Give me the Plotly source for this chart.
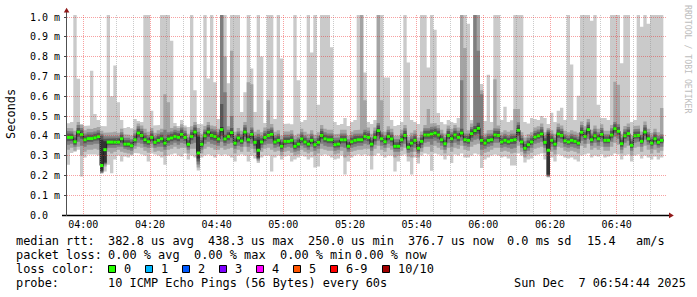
import math
import plotly.graph_objects as go

# ---------------- data ----------------
# x = minutes after 03:55:00, one RTT bin per minute (bin i spans [i, i+1])
tick_minutes = [5, 25, 45, 65, 85, 105, 125, 145, 165]
tick_labels = ["04:00", "04:20", "04:40", "05:00", "05:20", "05:40", "06:00", "06:20", "06:40"]
minor_minutes = [10, 15, 20, 30, 35, 40, 50, 55, 60, 70, 75, 80, 90, 95, 100,
                 110, 115, 120, 130, 135, 140, 150, 155, 160, 170, 175]
y_ticks_ms = [0.0, 0.1, 0.2, 0.3, 0.4, 0.5, 0.6, 0.7, 0.8, 0.9, 1.0]
y_tick_labels = ["0.0\u00a0\u00a0", "0.1 m", "0.2 m", "0.3 m", "0.4 m", "0.5 m",
                 "0.6 m", "0.7 m", "0.8 m", "0.9 m", "1.0 m"]

# median RTT per minute (microseconds)
median_us = [392, 392, 370, 419, 406, 380, 386, 386, 390, 396,
             250, 330, 368, 368, 368, 368, 385, 358, 358, 350,
             380, 414, 402, 380, 370, 392, 367, 377, 385, 363,
             384, 389, 397, 392, 407, 392, 357, 397, 419, 313,
             357, 400, 419, 402, 397, 384, 431, 384, 397, 416,
             363, 389, 374, 419, 380, 407, 367, 327, 369, 392,
             402, 407, 369, 377, 347, 372, 372, 377, 347, 358,
             384, 369, 358, 377, 355, 367, 402, 385, 380, 380,
             355, 358, 380, 380, 347, 370, 377, 380, 380, 397,
             392, 358, 392, 426, 385, 370, 397, 384, 347, 347,
             380, 402, 342, 363, 377, 337, 372, 404, 404, 409,
             414, 404, 380, 360, 402, 385, 404, 392, 414, 380,
             377, 411, 426, 438, 377, 363, 377, 380, 404, 402,
             369, 377, 370, 377, 380, 428, 369, 337, 355, 369,
             394, 400, 409, 367, 327, 377, 358, 409, 402, 375,
             369, 377, 372, 363, 418, 397, 431, 380, 400, 385,
             407, 377, 377, 404, 436, 423, 360, 400, 411, 352,
             400, 402, 372, 419, 385, 363, 385, 367, 377]

# sorted ping RTTs per minute (microseconds), ping01 = fastest, ping10 = slowest
ping01_us = [254, 313, 320, 330, 195, 290, 305, 305, 305, 300,
             208, 220, 254, 211, 280, 300, 270, 295, 290, 300,
             313, 310, 305, 300, 270, 310, 305, 300, 290, 254,
             300, 305, 310, 300, 295, 310, 280, 300, 290, 225,
             290, 300, 305, 300, 290, 305, 300, 305, 300, 290,
             270, 300, 305, 300, 270, 300, 285, 262, 290, 300,
             300, 220, 290, 300, 280, 295, 300, 270, 280, 290,
             300, 295, 280, 290, 240, 245, 300, 305, 300, 290,
             280, 285, 300, 205, 270, 290, 300, 305, 300, 305,
             300, 230, 300, 310, 300, 290, 300, 300, 220, 270,
             300, 305, 270, 205, 290, 260, 300, 310, 305, 224,
             310, 305, 300, 280, 300, 262, 305, 300, 310, 290,
             290, 300, 310, 305, 237, 280, 290, 300, 305, 300,
             290, 295, 285, 250, 250, 310, 300, 265, 280, 285,
             300, 305, 310, 280, 190, 290, 270, 305, 300, 290,
             285, 290, 280, 270, 300, 305, 310, 290, 300, 295,
             305, 290, 295, 300, 310, 305, 280, 300, 305, 270,
             300, 305, 285, 300, 290, 280, 295, 280, 290]
ping02_us = [330, 340, 325, 345, 300, 320, 330, 330, 335, 330,
             212, 245, 320, 310, 320, 330, 320, 315, 310, 305,
             335, 345, 340, 325, 315, 340, 320, 325, 320, 300,
             330, 335, 345, 335, 340, 340, 310, 335, 335, 240,
             310, 335, 345, 340, 330, 330, 340, 330, 335, 340,
             310, 330, 320, 345, 320, 335, 315, 272, 320, 335,
             340, 330, 320, 325, 300, 320, 325, 315, 300, 305,
             330, 320, 310, 320, 300, 310, 335, 330, 325, 325,
             305, 310, 325, 290, 300, 320, 325, 330, 330, 335,
             335, 300, 335, 350, 330, 320, 340, 330, 290, 300,
             325, 340, 295, 290, 320, 290, 320, 345, 345, 320,
             350, 340, 330, 310, 340, 320, 340, 335, 350, 330,
             325, 345, 355, 360, 300, 315, 320, 330, 340, 340,
             320, 325, 320, 310, 315, 350, 320, 290, 305, 315,
             335, 340, 345, 315, 192, 320, 305, 345, 340, 325,
             320, 325, 320, 310, 350, 340, 360, 330, 340, 330,
             345, 325, 325, 345, 365, 355, 310, 340, 350, 300,
             340, 345, 320, 350, 330, 310, 330, 315, 325]
ping03_us = [355, 360, 345, 370, 350, 345, 355, 355, 360, 360,
             214, 255, 340, 340, 340, 345, 345, 335, 330, 325,
             350, 365, 360, 345, 340, 360, 340, 345, 345, 330,
             350, 355, 365, 355, 365, 360, 330, 360, 365, 255,
             330, 360, 370, 360, 355, 350, 370, 350, 360, 365,
             335, 350, 345, 370, 345, 360, 335, 280, 340, 355,
             360, 360, 340, 345, 320, 340, 345, 340, 320, 325,
             350, 340, 330, 345, 325, 335, 360, 350, 345, 345,
             325, 330, 345, 340, 320, 340, 345, 350, 350, 360,
             355, 325, 355, 375, 350, 340, 360, 350, 320, 320,
             345, 360, 315, 320, 340, 310, 340, 365, 370, 355,
             375, 365, 350, 330, 365, 345, 365, 355, 375, 350,
             345, 370, 380, 385, 330, 335, 345, 350, 365, 365,
             340, 345, 340, 335, 340, 375, 340, 310, 325, 340,
             360, 365, 370, 340, 196, 345, 330, 370, 365, 345,
             340, 345, 340, 335, 375, 360, 385, 350, 365, 350,
             370, 345, 345, 370, 395, 385, 330, 365, 375, 325,
             365, 370, 345, 380, 355, 335, 355, 340, 345]
ping04_us = [372, 375, 355, 395, 385, 362, 370, 370, 375, 378,
             218, 260, 352, 355, 352, 355, 365, 345, 342, 337,
             362, 392, 380, 360, 355, 375, 352, 360, 365, 345,
             365, 372, 378, 372, 385, 375, 342, 378, 395, 270,
             342, 380, 395, 380, 375, 365, 400, 365, 378, 390,
             348, 368, 358, 395, 362, 385, 350, 285, 355, 372,
             382, 385, 355, 360, 332, 355, 358, 360, 332, 340,
             365, 355, 342, 360, 340, 350, 382, 368, 362, 362,
             340, 342, 362, 362, 332, 355, 360, 365, 365, 378,
             372, 342, 372, 400, 368, 355, 378, 368, 335, 333,
             362, 382, 328, 345, 358, 322, 355, 385, 388, 385,
             392, 385, 365, 345, 385, 365, 385, 372, 395, 365,
             360, 390, 405, 410, 355, 350, 360, 365, 385, 385,
             355, 360, 355, 358, 360, 400, 355, 325, 340, 355,
             378, 385, 390, 352, 200, 360, 345, 390, 385, 360,
             355, 360, 358, 350, 398, 380, 410, 365, 385, 368,
             390, 362, 362, 388, 415, 405, 345, 385, 395, 338,
             385, 388, 360, 400, 370, 350, 370, 352, 362]
ping05_us = [384, 385, 363, 410, 398, 372, 378, 379, 383, 388,
             225, 265, 360, 362, 360, 362, 376, 352, 350, 344,
             372, 405, 393, 370, 363, 385, 360, 369, 377, 355,
             376, 381, 389, 384, 398, 384, 350, 389, 410, 285,
             350, 391, 410, 393, 388, 376, 418, 376, 389, 405,
             356, 380, 366, 410, 372, 398, 360, 290, 362, 384,
             394, 398, 362, 369, 340, 364, 365, 369, 340, 350,
             376, 362, 350, 369, 348, 359, 393, 377, 372, 372,
             347, 350, 372, 372, 340, 363, 369, 373, 372, 389,
             384, 350, 384, 415, 377, 363, 389, 376, 340, 340,
             372, 393, 335, 355, 369, 330, 364, 396, 396, 400,
             405, 396, 373, 353, 394, 377, 396, 384, 405, 372,
             369, 402, 416, 425, 368, 356, 369, 372, 396, 394,
             362, 369, 362, 369, 372, 415, 362, 330, 347, 362,
             387, 392, 400, 360, 205, 369, 350, 400, 394, 367,
             362, 369, 365, 356, 408, 389, 420, 372, 392, 377,
             399, 370, 370, 396, 427, 415, 352, 392, 403, 345,
             392, 395, 365, 410, 377, 356, 377, 360, 370]
ping06_us = [400, 400, 378, 428, 414, 388, 394, 393, 398, 404,
             380, 372, 375, 374, 376, 375, 393, 366, 366, 358,
             388, 422, 410, 388, 378, 400, 374, 385, 393, 372,
             392, 397, 405, 400, 415, 400, 365, 405, 428, 395,
             365, 408, 428, 410, 406, 392, 444, 392, 405, 425,
             372, 397, 382, 428, 388, 416, 375, 380, 376, 400,
             410, 416, 377, 385, 355, 380, 380, 385, 355, 366,
             392, 377, 366, 385, 362, 375, 411, 393, 388, 388,
             363, 366, 388, 388, 355, 377, 385, 388, 388, 405,
             400, 366, 400, 437, 393, 377, 405, 392, 355, 355,
             388, 411, 350, 371, 385, 345, 380, 412, 412, 418,
             423, 412, 387, 367, 410, 393, 412, 400, 423, 388,
             385, 420, 436, 451, 386, 370, 385, 388, 412, 410,
             376, 385, 378, 385, 388, 441, 376, 345, 363, 376,
             401, 408, 418, 375, 410, 385, 366, 418, 410, 383,
             376, 385, 380, 370, 428, 405, 442, 388, 408, 393,
             415, 384, 384, 412, 445, 431, 368, 408, 419, 359,
             408, 409, 379, 428, 393, 370, 393, 374, 384]
ping07_us = [412, 410, 392, 440, 428, 400, 406, 405, 410, 416,
             400, 385, 388, 386, 388, 387, 405, 378, 378, 370,
             400, 436, 424, 402, 390, 412, 386, 398, 405, 386,
             405, 410, 418, 413, 430, 413, 378, 418, 442, 405,
             378, 420, 442, 423, 420, 405, 560, 405, 418, 440,
             386, 410, 395, 442, 402, 430, 388, 395, 388, 413,
             424, 430, 390, 398, 368, 392, 392, 398, 368, 380,
             405, 390, 378, 398, 374, 388, 424, 405, 400, 400,
             376, 378, 400, 400, 368, 390, 398, 400, 400, 418,
             413, 378, 413, 452, 406, 390, 418, 405, 368, 368,
             400, 425, 362, 385, 398, 358, 392, 425, 425, 432,
             436, 425, 400, 380, 424, 406, 425, 413, 436, 400,
             398, 433, 450, 466, 400, 382, 398, 400, 425, 424,
             388, 398, 390, 398, 400, 455, 388, 358, 376, 388,
             414, 420, 432, 388, 420, 398, 378, 432, 424, 396,
             388, 398, 392, 383, 442, 418, 456, 400, 422, 405,
             428, 396, 396, 425, 458, 445, 380, 421, 432, 372,
             421, 422, 392, 442, 406, 383, 406, 386, 396]
ping08_us = [425, 422, 405, 455, 440, 412, 418, 418, 422, 428,
             410, 398, 400, 400, 400, 398, 418, 390, 390, 383,
             412, 448, 436, 415, 403, 425, 398, 410, 418, 430,
             418, 422, 430, 425, 442, 425, 392, 430, 455, 420,
             392, 432, 455, 436, 432, 418, 1200, 620, 430, 500,
             400, 422, 408, 455, 415, 442, 400, 410, 400, 425,
             436, 442, 402, 410, 382, 405, 405, 410, 382, 392,
             418, 402, 390, 410, 388, 400, 436, 418, 412, 412,
             390, 392, 412, 412, 382, 402, 410, 412, 412, 430,
             425, 392, 425, 465, 418, 402, 430, 418, 382, 382,
             412, 438, 376, 398, 410, 372, 405, 438, 438, 445,
             448, 438, 412, 393, 436, 418, 438, 425, 680, 412,
             410, 445, 1200, 830, 610, 395, 410, 412, 438, 436,
             400, 410, 402, 410, 412, 468, 400, 372, 390, 400,
             426, 432, 445, 400, 430, 410, 392, 445, 436, 408,
             400, 410, 405, 396, 455, 430, 468, 412, 435, 418,
             440, 408, 408, 438, 470, 458, 392, 433, 445, 385,
             433, 435, 405, 455, 418, 396, 418, 400, 408]
ping09_us = [440, 438, 425, 470, 455, 428, 435, 434, 440, 445,
             425, 415, 418, 418, 420, 415, 435, 408, 405, 400,
             430, 462, 452, 435, 420, 440, 415, 428, 435, 610,
             570, 440, 448, 440, 458, 442, 410, 448, 470, 440,
             410, 450, 470, 452, 448, 435, 1200, 800, 448, 830,
             420, 440, 425, 470, 670, 660, 420, 430, 418, 442,
             580, 460, 420, 428, 400, 422, 422, 428, 400, 410,
             435, 420, 410, 428, 405, 418, 455, 435, 430, 430,
             408, 410, 430, 430, 400, 420, 428, 430, 1200, 580,
             442, 410, 442, 1200, 580, 420, 448, 435, 400, 400,
             430, 455, 395, 415, 428, 392, 422, 455, 535, 462,
             465, 455, 430, 412, 452, 435, 455, 442, 1200, 844,
             428, 462, 1200, 1200, 630, 412, 428, 430, 685, 452,
             418, 428, 420, 428, 535, 535, 418, 392, 408, 418,
             442, 448, 462, 418, 440, 428, 410, 462, 452, 425,
             418, 428, 422, 415, 472, 448, 485, 430, 452, 435,
             458, 425, 425, 455, 673, 658, 410, 450, 462, 402,
             450, 452, 422, 472, 435, 415, 435, 418, 540]
ping10_us = [463, 470, 1200, 688, 460, 450, 452, 729, 510, 480,
             450, 448, 1200, 600, 755, 570, 480, 440, 445, 438,
             485, 475, 470, 1200, 1200, 526, 452, 455, 1200, 1200,
             1200, 880, 465, 450, 480, 452, 445, 1200, 630, 460,
             458, 1200, 690, 1200, 670, 485, 1200, 1200, 665, 1200,
             1200, 1200, 520, 620, 1200, 740, 520, 1200, 800, 465,
             1200, 1200, 485, 1200, 790, 460, 462, 458, 1200, 680,
             470, 480, 1200, 821, 1200, 557, 1200, 1200, 1200, 847,
             470, 455, 460, 490, 450, 470, 480, 1200, 1200, 720,
             470, 460, 480, 1200, 1200, 695, 695, 480, 450, 455,
             470, 1200, 770, 480, 470, 460, 1200, 1200, 745, 1200,
             936, 515, 470, 458, 480, 470, 465, 490, 1200, 1200,
             966, 480, 1200, 1200, 662, 475, 708, 470, 1200, 1200,
             480, 547, 470, 478, 1200, 1200, 1200, 470, 462, 490,
             485, 480, 500, 490, 460, 517, 470, 527, 542, 480,
             1200, 760, 480, 602, 1200, 1200, 1200, 981, 1200, 557,
             490, 490, 480, 1200, 1200, 1200, 767, 1200, 1200, 470,
             480, 1200, 951, 1200, 966, 1200, 1200, 1200, 1200]

smoke_colors = ["#cacaca", "#a4a4a4", "#7e7e7e", "#585858", "#323232"]

loss_labels = ["0", "1", "2", "3", "4", "5", "6-9", "10/10"]
loss_colors = ["#26ff00", "#00b8ff", "#0059ff", "#7e00ff", "#ff00ff", "#ff5500", "#ff0000", "#a10000"]

legend_line1 = [("median rtt:", 16), ("382.8 us avg", 107.3), ("438.3 us max", 207.3),
                ("250.0 us min", 307.3), ("376.7 us now", 407.7), ("0.0 ms sd", 506.7),
                ("15.4", 586.7), ("am/s", 635.7)]
legend_line2 = [("packet loss:", 16), ("0.00 % avg", 107.3), ("0.00 % max", 193.3),
                ("0.00 % min", 279.3), ("0.00 % now", 354.3)]
legend_line3_head = "loss color:"
legend_line4 = [("probe:", 16), ("10 ICMP Echo Pings (56 Bytes) every 60s", 107.3),
                ("Sun Dec\u00a0\u00a07 06:54:44 2025", 513.3)]

# ---------------- layout geometry ----------------
W, H = 697, 297
L, R, T, B = 67, 30, 15, 82
PW, PH = W - L - R, H - T - B
X_RANGE = [0.1, 180.1]
Y_RANGE = [0.0, 1.0101]
MONO = "DejaVu Sans Mono"


def pxx(x):
    return (x - L) / PW


def pxy(y):
    return (T + PH - y) / PH


n = len(median_us)
fig = go.Figure()

bands = [(ping01_us, ping10_us), (ping02_us, ping09_us), (ping03_us, ping08_us),
         (ping04_us, ping07_us), (ping05_us, ping06_us)]
for (lo, hi), color in zip(bands, smoke_colors):
    xs, ys = [], []
    for i in range(n):
        xs += [i, i + 1]
        ys += [hi[i] / 1000.0, hi[i] / 1000.0]
    for i in range(n - 1, -1, -1):
        xs += [i + 1, i]
        ys += [lo[i] / 1000.0, lo[i] / 1000.0]
    fig.add_trace(go.Scatter(x=xs, y=ys, mode="lines", fill="toself", fillcolor=color,
                             line=dict(width=0, color=color), hoverinfo="skip",
                             showlegend=False))

# median line (dark step line)
mxs = list(range(n + 1))
mys = [v / 1000.0 for v in median_us] + [median_us[-1] / 1000.0]
fig.add_trace(go.Scatter(x=mxs, y=mys, mode="lines",
                         line=dict(color="#202020", width=1, shape="hv"),
                         hoverinfo="skip", showlegend=False))

# median marks coloured by loss (all 0 % loss -> green)
gx, gy = [], []
for i, v in enumerate(median_us):
    gx += [i, i + 1, None]
    gy += [v / 1000.0, v / 1000.0, None]
fig.add_trace(go.Scatter(x=gx, y=gy, mode="lines", connectgaps=False,
                         line=dict(color=loss_colors[0], width=3),
                         hoverinfo="skip", showlegend=False))

# empty trace to own the overlay grid subplot (drawn above the data)
fig.add_trace(go.Scatter(x=[None], y=[None], xaxis="x2", yaxis="y2", mode="markers",
                         hoverinfo="skip", showlegend=False))

red_grid = "rgba(235,30,30,0.42)"
gray_grid = "rgba(140,140,140,0.45)"

fig.update_layout(
    width=W, height=H, autosize=False,
    margin=dict(l=L, r=R, t=T, b=B, pad=0),
    paper_bgcolor="white", plot_bgcolor="rgba(0,0,0,0)",
    showlegend=False, hovermode=False,
    xaxis=dict(domain=[0, 1], range=X_RANGE, visible=False, fixedrange=True),
    yaxis=dict(domain=[0, 1], range=Y_RANGE, visible=False, fixedrange=True),
    xaxis2=dict(domain=[0, 1], anchor="y2", range=X_RANGE, tickmode="array",
                tickvals=tick_minutes, ticktext=tick_labels,
                showgrid=True, gridcolor=red_grid, gridwidth=1, griddash="1px,1px",
                zeroline=False, showline=False, ticks="",
                tickfont=dict(family=MONO, size=10, color="#000000"),
                ticklabelstandoff=2,
                minor=dict(tickmode="array", tickvals=minor_minutes, showgrid=True,
                           gridcolor=gray_grid, gridwidth=1, griddash="1px,1px", ticks=""),
                fixedrange=True),
    yaxis2=dict(domain=[0, 1], anchor="x2", range=Y_RANGE, tickmode="array",
                tickvals=y_ticks_ms, ticktext=y_tick_labels,
                showgrid=True, gridcolor=red_grid, gridwidth=1, griddash="1px,1px",
                zeroline=False, showline=False, ticks="outside", ticklen=2,
                tickcolor="#444444", tickwidth=1,
                tickfont=dict(family=MONO, size=10, color="#000000"),
                ticklabelstandoff=2, fixedrange=True),
)

shapes = []
# axes lines and arrow heads
shapes.append(dict(type="line", xref="paper", yref="paper", x0=pxx(62), x1=pxx(669),
                   y0=pxy(215.5), y1=pxy(215.5), line=dict(color="#000000", width=1.5),
                   layer="above"))
shapes.append(dict(type="line", xref="paper", yref="paper", x0=pxx(66.5), x1=pxx(66.5),
                   y0=pxy(216), y1=pxy(11), line=dict(color="#505050", width=1),
                   layer="above"))
arrow_color = "#901818"
shapes.append(dict(type="path", xref="paper", yref="paper", layer="above",
                   path="M {} {} L {} {} L {} {} Z".format(pxx(63.8), pxy(12.6), pxx(69.4), pxy(12.6),
                                                            pxx(66.6), pxy(7.8)),
                   fillcolor=arrow_color, line=dict(width=0)))
shapes.append(dict(type="path", xref="paper", yref="paper", layer="above",
                   path="M {} {} L {} {} L {} {} Z".format(pxx(669), pxy(212.5), pxx(669), pxy(218.3),
                                                            pxx(673.8), pxy(215.4)),
                   fillcolor=arrow_color, line=dict(width=0)))

annotations = []


def text_at(txt, x, yc, size=11.9, color="#000000", angle=0, xanchor="left"):
    annotations.append(dict(text=txt, x=pxx(x), y=pxy(yc), xref="paper", yref="paper",
                            xanchor=xanchor, yanchor="middle", showarrow=False,
                            borderpad=0, textangle=angle,
                            font=dict(family=MONO, size=size, color=color)))


row_y = [241.4, 255.3, 269.2, 283.1]
for txt, x in legend_line1:
    text_at(txt, x - 0.7, row_y[0])
for txt, x in legend_line2:
    text_at(txt, x - 0.7, row_y[1])
text_at(legend_line3_head, 16 - 0.7, row_y[2])
sq_x = 108.5
for lab, col in zip(loss_labels, loss_colors):
    x0 = math.floor(sq_x) + 0.5
    shapes.append(dict(type="rect", xref="paper", yref="paper", layer="above",
                       x0=pxx(x0), x1=pxx(x0 + 7), y0=pxy(265.5), y1=pxy(272.5),
                       fillcolor=col, line=dict(color="#000000", width=1)))
    text_at(lab, x0 + 14.0, row_y[2])
    sq_x = sq_x + 14.3 + 7.14 * len(lab) + 15.6
for txt, x in legend_line4:
    text_at(txt, x - 0.7, row_y[3])

# axis title and watermark
text_at("Seconds", 10.5, 114.5, size=11.9, angle=-90, xanchor="center")
text_at("RRDTOOL / TOBI OETIKER", 688, 59, size=8.2, color="#bdbdbd", angle=90, xanchor="center")

fig.update_layout(shapes=shapes, annotations=annotations)

fig.write_html("out.html", include_plotlyjs=True, full_html=True,
               config=dict(displayModeBar=False, staticPlot=True))
